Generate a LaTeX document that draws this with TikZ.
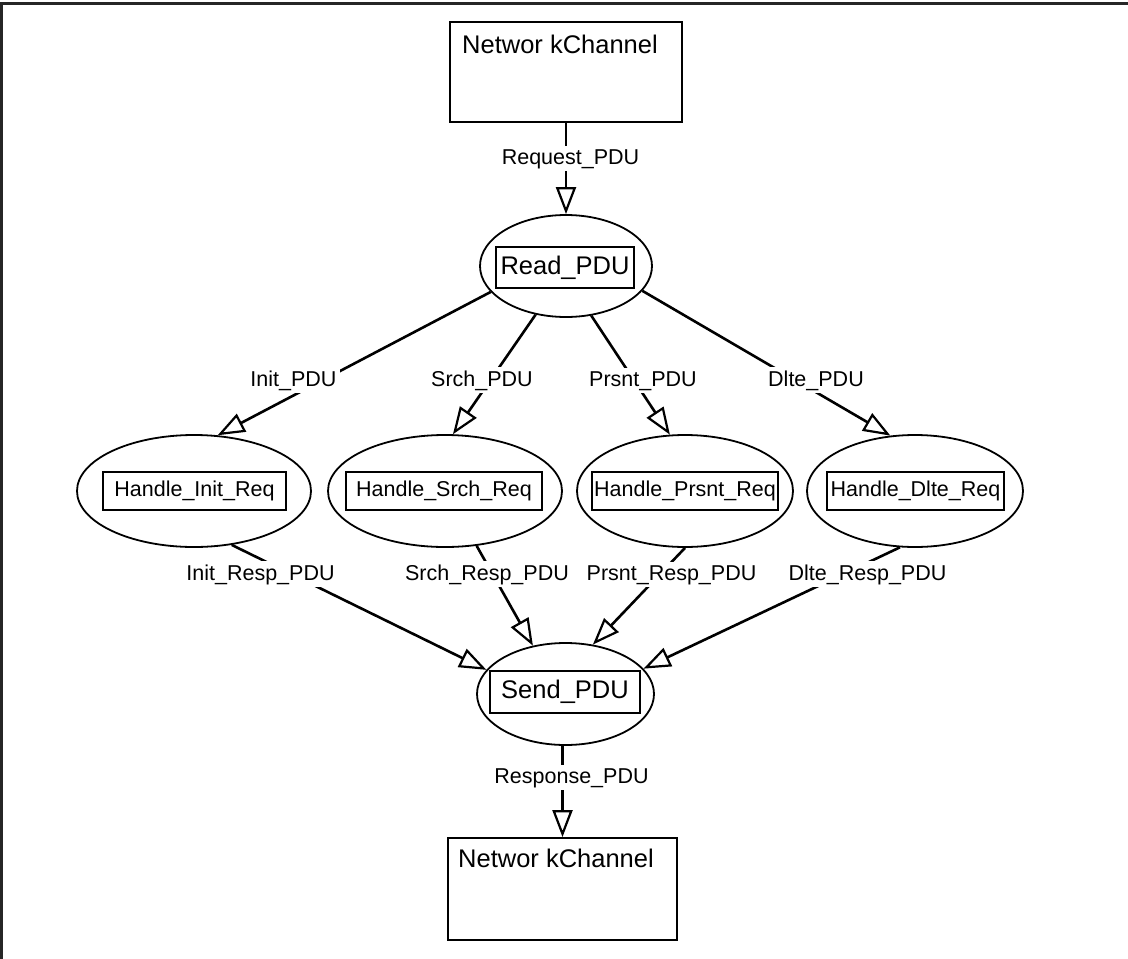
\documentclass[tikz,border=0pt]{standalone}
\usepackage{fontspec}
\setmainfont{Liberation Sans}
\usetikzlibrary{shapes.geometric,arrows.meta}
\begin{document}
\begin{tikzpicture}[x=1pt,y=-1pt,
  proc/.style={ellipse,draw,line width=1.8pt,inner sep=0pt},
  namebox/.style={rectangle,draw,line width=1.6pt,inner sep=0pt,
    font=\fontsize{21.5}{24}\selectfont},
  bignamebox/.style={namebox,font=\fontsize{25.5}{30}\selectfont},
  channel/.style={rectangle,draw,line width=1.8pt,inner sep=0pt},
  chantext/.style={anchor=base west,inner sep=0pt,
    font=\fontsize{25.5}{30}\selectfont},
  flow/.style={line width=2.6pt,
    -{Triangle[open,length=27pt,width=20pt,line width=2.2pt]}},
  flowlabel/.style={fill=white,inner sep=3pt,anchor=base,
    font=\fontsize{21.5}{24}\selectfont}]
\useasboundingbox (0,0) rectangle (1128,959);

% outer frame (top and left edges)
\draw[line width=3pt,black!85] (1.5,959) -- (1.5,3) -- (1128,3);

% channels
\node[channel,minimum width=232pt,minimum height=100pt] (chtop) at (566,72) {};
\node[chantext] (chtoptext) at (462,53) {Networ kChannel};
\node[channel,minimum width=229pt,minimum height=102pt] (chbot) at (562.5,889) {};
\node[chantext] (chbottext) at (458,867) {Networ kChannel};

% processes
\node[proc,minimum width=172pt,minimum height=102pt] (read) at (566,266) {};
\node[bignamebox,minimum width=138pt,minimum height=41pt] (readbox) at (565,267.5) {Read\_PDU};

\node[proc,minimum width=234pt,minimum height=112pt] (hinit) at (194,491) {};
\node[namebox,minimum width=183pt,minimum height=38pt] (hinitbox) at (194.5,491) {Handle\_Init\_Req};

\node[proc,minimum width=234pt,minimum height=112pt] (hsrch) at (445,491) {};
\node[namebox,minimum width=196pt,minimum height=38pt] (hsrchbox) at (444,491) {Handle\_Srch\_Req};

\node[proc,minimum width=216pt,minimum height=112pt] (hprsnt) at (685,491) {};
\node[namebox,minimum width=186pt,minimum height=38pt] (hprsntbox) at (685,491) {Handle\_Prsnt\_Req};

\node[proc,minimum width=216pt,minimum height=112pt] (hdlte) at (915,491) {};
\node[namebox,minimum width=177pt,minimum height=38pt] (hdltebox) at (915.5,491) {Handle\_Dlte\_Req};

\node[proc,minimum width=177pt,minimum height=102pt] (send) at (565.5,694) {};
\node[bignamebox,minimum width=150pt,minimum height=42pt] (sendbox) at (565,692) {Send\_PDU};

% flows
\draw[flow] (chtop.south) -- (read.north);
\draw[flow] (read.199) -- (hinit.67);
\draw[flow] (read.238) -- (hsrch.82);
\draw[flow] (read.297) -- (hprsnt.105);
\draw[flow] (read.342) -- (hdlte.114);
\draw[flow] (hinit.305) -- (send.163);
\draw[flow] (hsrch.300) -- (send.124);
\draw[flow] (hprsnt.270) -- (send.61);
\draw[flow] (hdlte.255) -- (send.18);
\draw[flow] (chbot.north |- send.south) -- (chbot.north);

% flow labels
\node[flowlabel] (lreq) at (570.5,164) {Request\_PDU};
\node[flowlabel] (linit) at (293.5,386) {Init\_PDU};
\node[flowlabel] (lsrch) at (482,386) {Srch\_PDU};
\node[flowlabel] (lprsnt) at (643,386) {Prsnt\_PDU};
\node[flowlabel] (ldlte) at (816,386) {Dlte\_PDU};
\node[flowlabel] (linitr) at (260.5,580) {Init\_Resp\_PDU};
\node[flowlabel] (lsrchr) at (487,580) {Srch\_Resp\_PDU};
\node[flowlabel] (lprsntr) at (671.5,580) {Prsnt\_Resp\_PDU};
\node[flowlabel] (ldlter) at (867.5,580) {Dlte\_Resp\_PDU};
\node[flowlabel] (lresp) at (571.5,783) {Response\_PDU};
\end{tikzpicture}
\end{document}
